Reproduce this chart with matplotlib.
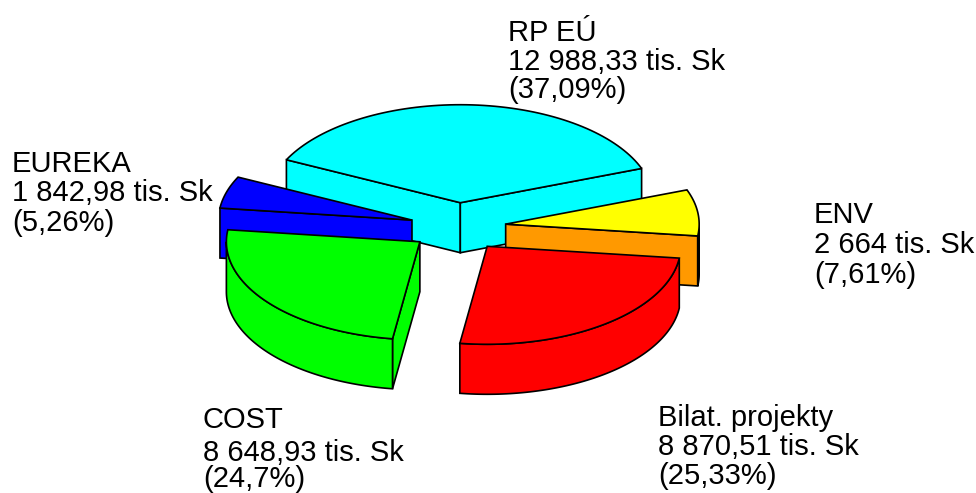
import numpy as np
import matplotlib
matplotlib.use("Agg")
import matplotlib.pyplot as plt
from matplotlib.patches import Polygon

# clockwise from the big cyan slice
names = ["RP EÚ", "ENV", "Bilat. projekty", "COST", "EUREKA"]
values = [12988.33, 2664, 8870.51, 8648.93, 1842.98]
value_labels = ["12 988,33 tis. Sk", "2 664 tis. Sk", "8 870,51 tis. Sk", "8 648,93 tis. Sk", "1 842,98 tis. Sk"]
pct_labels = ["(37,09%)", "(7,61%)", "(25,33%)", "(24,7%)", "(5,26%)"]

top_colors = ["#00ffff", "#ffff00", "#ff0000", "#00ff00", "#0000ff"]
side_colors = ["#00ffff", "#ff9900", "#ff0000", "#00ff00", "#0000ff"]
wall_colors = ["#00ffff", "#c000c0", "#ff0000", "#00ff00", "#0000ff"]

# pixel geometry of the fake 3d pie
CX, CY = 458.0, 227.0
A, B = 193.5, 98.0
DEPTH = 50.0
EXPLODE = 48.0
START = 154.0

# left x, then the three baselines
label_pos = [(508, 41, 70, 98), (814, 223, 253, 283), (658, 426, 455, 484), (203, 428, 461, 487), (12, 172, 201, 231)]
draw_order = [0, 1, 4, 3, 2]


def pt(ox, oy, deg):
    t = np.radians(deg)
    return ox + A * np.cos(t), oy - B * np.sin(t)


def arc(ox, oy, t0, t1):
    ts = np.linspace(t0, t1, 80)
    x, y = pt(ox, oy, ts)
    return np.column_stack([x, y])


def draw_slice(ax, i, t0, t1):
    mid = np.radians((t0 + t1) / 2)
    ox = CX + EXPLODE * np.cos(mid)
    oy = CY - EXPLODE * B / A * np.sin(mid)
    lw = 1.2

    # radial faces, only the ones turned to the viewer
    for t, show in [(t0, np.cos(np.radians(t0)) < 0), (t1, np.cos(np.radians(t1)) > 0)]:
        if show:
            x, y = pt(ox, oy, t)
            face = [(ox, oy), (x, y), (x, y + DEPTH), (ox, oy + DEPTH)]
            ax.add_patch(Polygon(face, closed=True, fc=side_colors[i], ec="black", lw=lw))

    # outer wall = part of the arc in the lower half of the ellipse
    lo, hi = t1, t0
    for k in range(-1, 2):
        a = max(lo, -180 + 360 * k)
        b = min(hi, 0 + 360 * k)
        if a < b:
            front = arc(ox, oy, b, a)
            back = front[::-1] + [0, DEPTH]
            ax.add_patch(Polygon(np.vstack([front, back]), closed=True, fc=wall_colors[i], ec="black", lw=lw))

    top = np.vstack([[ox, oy], arc(ox, oy, t0, t1)])
    ax.add_patch(Polygon(top, closed=True, fc=top_colors[i], ec="black", lw=lw))


fig = plt.figure(figsize=(9.76, 4.93), dpi=100)
ax = fig.add_axes([0, 0, 1, 1])
ax.set_xlim(0, 976)
ax.set_ylim(493, 0)
ax.axis("off")

sweeps = 360 * np.array(values) / np.sum(values)
starts = START - np.concatenate([[0], np.cumsum(sweeps)[:-1]])
for i in draw_order:
    draw_slice(ax, i, starts[i], starts[i] - sweeps[i])

for i in range(len(names)):
    x, y1, y2, y3 = label_pos[i]
    ax.text(x, y1, names[i], family="Liberation Sans", fontsize=21, va="baseline", ha="left")
    ax.text(x, y2, value_labels[i], family="Liberation Sans", fontsize=21, va="baseline", ha="left")
    ax.text(x, y3, pct_labels[i], family="Liberation Sans", fontsize=21, va="baseline", ha="left")

fig.savefig("out.png", dpi=100)
